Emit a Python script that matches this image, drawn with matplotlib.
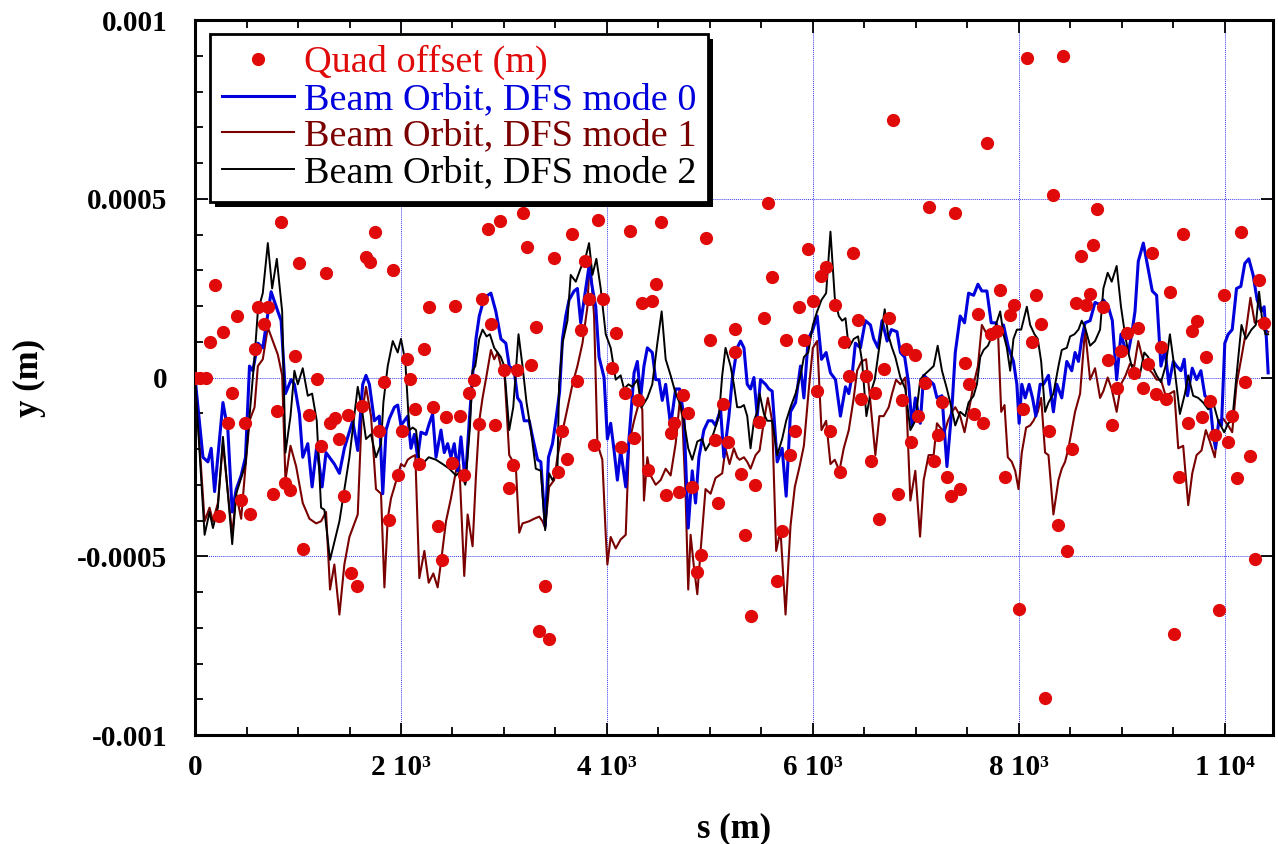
import numpy as np
import matplotlib
matplotlib.use("Agg")
import matplotlib.pyplot as plt
from matplotlib.ticker import MultipleLocator, FixedLocator
from matplotlib.patches import Rectangle

# ── Data (s in m, y in micrometres) ───────────────────────────────────────────
quad_pts = [
    (0, 0), (50, 0), (110, 0), (141, 98), (190, 258), (270, 128), (406, 171), (361, -42),
    (319, -126), (490, -126), (232, -386), (448, -342), (536, -381), (578, 80), (610, 198),
    (713, 198), (668, 149), (794, -93), (755, -327), (836, 436), (969, 61), (1014, 319),
    (878, -295), (927, -316), (1046, -481), (1104, -106), (1182, -5), (1224, -191),
    (1272, 291), (1311, -126), (1363, -114), (1402, -171), (1444, -332), (1489, -106),
    (1512, -548), (1576, -584), (1618, -80), (1660, 338), (1699, 323), (1748, 406),
    (1926, 300), (2840, 415), (2960, 437), (3180, 459), (3228, 364), (3487, 335), (2268, 198),
    (2527, 200), (2785, 221), (2226, 80), (2873, 149), (3309, 140), (2055, 51), (1838, -13),
    (2091, -3), (2705, -6), (2663, -42), (3002, 22), (3131, 22), (3260, 36), (2139, -89),
    (2313, -83), (2436, -111), (2572, -108), (1790, -149), (2010, -150), (2753, -131),
    (2915, -134), (2178, -242), (2491, -238), (2614, -272), (3092, -246), (3050, -310),
    (1968, -274), (1880, -399), (2355, -415), (2398, -510), (3399, -584), (3341, -708),
    (3438, -730),
    (3658, 402), (3917, 440), (4221, 411), (4524, 436), (4957, 389), (3787, 325), (3826, 221),
    (3962, 221), (4343, 208), (4440, 214), (4479, 261), (3745, 134), (4091, 124), (4996, 105),
    (5242, 136), (3707, -10), (4046, 26), (4175, -42), (4305, -64), (4738, -48), (5125, -74),
    (3561, -149), (3875, -188), (4133, -195), (4262, -170), (4618, -156), (4650, -128),
    (4786, -98), (5048, -176), (5174, -179), (3616, -227), (3529, -264), (4398, -259),
    (4570, -329), (4699, -320), (4828, -306), (5080, -351), (5297, -270), (4915, -497),
    (4877, -545),
    (6777, 720), (5562, 487), (5953, 360), (6389, 348), (5604, 281), (6082, 284), (6128, 309),
    (5523, 167), (5863, 196), (5998, 214), (6212, 202), (6435, 162), (6735, 167), (5740, 106),
    (5911, 106), (6299, 98), (6903, 79), (6994, 64), (5240, 70), (6347, 3), (6519, 3),
    (6693, 24), (6040, -38), (6470, -60), (6606, -42), (6864, -64), (5475, -124), (5824, -149),
    (6170, -150), (7020, -108), (6955, -179), (5782, -217), (5436, -302), (6260, -265),
    (6564, -233), (6822, -325), (6645, -395), (5345, -440), (5701, -430), (5652, -568),
    (5394, -666),
    (8080, 893), (8426, 900), (7689, 657), (8335, 511), (7123, 476), (7382, 459), (8755, 472),
    (8723, 371), (8600, 341), (7818, 246), (8164, 230), (7598, 179), (7954, 202), (7909, 175),
    (8212, 149), (8555, 208), (8649, 202), (8688, 233), (7786, 131), (7731, 121), (8125, 98),
    (7472, 42), (7085, -15), (7511, -17), (7253, -68), (7560, -102), (7650, -128), (8035, -89),
    (8296, -149), (7214, -162), (8513, -200), (7172, -233), (7301, -278), (7860, -277),
    (7343, -332), (7430, -313), (8384, -412), (8471, -486), (7996, -647), (8254, -897),
    (9595, 402), (10161, 406), (9295, 348), (10329, 274), (9466, 240), (9990, 230), (8820, 198),
    (9725, 159), (9683, 131), (9159, 139), (9052, 124), (10381, 153), (8991, 74), (9379, 84),
    (8862, 48), (9250, 38), (9815, 57), (9120, 13), (8949, -29), (9208, -29), (9330, -45),
    (9424, -60), (10200, -13), (9854, -65), (8907, -134), (9644, -128), (9773, -111),
    (10071, -108), (9902, -162), (10032, -181), (10248, -219), (9553, -278), (10119, -282),
    (10290, -508), (9945, -650), (9508, -718),
]

mode0_pts = [
    (0, 0), (77, -223), (125, -236), (157, -198), (190, -319), (271, -70), (319, -147),
    (361, -376), (400, -313), (448, -274), (490, -223), (529, 32), (561, 19), (610, 96),
    (658, 83), (739, 240), (804, 185), (836, 159), (878, -45), (933, -6), (965, -19),
    (1014, -102), (1046, -223), (1095, -185), (1137, -306), (1182, -191), (1234, -306),
    (1272, -210), (1353, -242), (1402, -268), (1450, -198), (1531, -121), (1580, -204),
    (1628, -19), (1660, 6), (1693, -19), (1741, -121), (1790, -108),
    (1823, -325), (1855, -147), (1887, -115), (1936, -83), (1968, -77), (2000, -134),
    (2065, -108), (2097, -198), (2130, -159), (2162, -223), (2194, -153), (2243, -159),
    (2275, -128), (2307, -102), (2340, -223), (2388, -147), (2420, -210), (2453, -185),
    (2485, -223), (2517, -185), (2550, -261), (2582, -166), (2624, -293), (2663, -121),
    (2695, 6), (2728, 108), (2760, 172), (2808, 223), (2873, 236), (2921, 185), (2970, 108),
    (3018, 96), (3051, 32), (3099, 19), (3132, -57), (3164, -70), (3196, -121), (3245, -121),
    (3277, -166), (3326, -230), (3358, -236), (3400, -415), (3432, -223), (3471, -185),
    (3503, -121), (3540, -40),
    (3568, 108), (3600, 172), (3632, 217), (3681, 242), (3713, 249), (3745, 153), (3787, 236),
    (3826, 312), (3859, 249), (3891, 198), (3923, 57), (3972, 0), (4004, -172), (4036, -128),
    (4069, -204), (4101, -287), (4133, -204), (4182, -306), (4214, -172), (4263, 13),
    (4295, 45), (4327, -57), (4359, 32), (4392, 83), (4440, 70), (4473, -6), (4505, -6),
    (4537, -64), (4570, -19), (4618, -134), (4667, -32), (4705, -32), (4747, -108),
    (4789, -421), (4828, -261), (4860, -351), (4893, -223), (4941, -147), (4983, -121),
    (5022, -121), (5054, -134), (5103, -89), (5135, -223), (5184, -108), (5216, -6), (5264, 83),
    (5297, 102), (5330, 83), (5362, -19), (5394, -32), (5427, 0), (5459, -108), (5491, -6),
    (5540, -19), (5572, -32), (5604, -38), (5653, -236), (5701, -198), (5740, -332),
    (5782, -96), (5831, -70), (5879, 32), (5912, -57), (5954, 108), (5999, 134), (6041, 172),
    (6083, 51), (6128, 70), (6170, 13), (6219, -6), (6267, -108), (6316, -26), (6348, -45),
    (6380, 6), (6412, 96), (6461, 83), (6509, 159), (6558, 147), (6590, 108), (6632, 83),
    (6671, 159), (6720, 102), (6762, 134), (6816, 128), (6849, 70), (6891, 57), (6930, -19),
    (6962, -134), (6994, -57),
    (7042, -128), (7075, 6), (7123, -6), (7172, -19), (7204, -57), (7253, -51), (7301, -249),
    (7350, -83), (7382, 70), (7430, 172), (7472, 153), (7511, 236), (7560, 230), (7602, 261),
    (7640, 242), (7689, 242), (7731, 153), (7776, 153), (7818, 121), (7850, 147), (7899, 83),
    (7947, 45), (7980, -19), (8002, -128), (8028, -19), (8061, -57), (8099, -19), (8132, -57),
    (8164, -108), (8206, -19), (8238, -19), (8287, 6), (8335, -96), (8368, -19), (8416, -57),
    (8465, 45), (8513, 19), (8545, 70), (8578, 45), (8610, 108), (8642, 153), (8691, 159),
    (8739, 210), (8788, 204),
    (8820, 217), (8868, 198), (8907, 159), (8949, -6), (8991, 121), (9023, 89), (9062, 70),
    (9095, 121), (9127, 185), (9159, 325), (9208, 376), (9250, 312), (9295, 242), (9337, 230),
    (9379, 32), (9418, 77), (9456, -19), (9499, 45), (9531, 32), (9573, 19), (9605, 51),
    (9637, -51), (9683, 26), (9725, -6), (9767, 19), (9806, -51), (9854, -64), (9886, -159),
    (9909, -198), (9941, -121), (9967, -134), (9999, 96), (10032, 121), (10071, 134),
    (10113, 249), (10155, 255), (10193, 319), (10232, 332), (10274, 287), (10313, 217),
    (10355, 185), (10381, 198), (10403, 108), (10420, 13),
]

mode1_pts = [
    (0, 0), (93, -402), (141, -364), (174, -402), (222, -351), (271, -185), (361, -440),
    (400, -325), (448, -395), (490, -249), (529, -121), (578, -83), (610, 32), (658, 51),
    (707, 140), (804, 64), (846, 6), (878, -287), (927, -191), (982, -249), (1046, -351),
    (1111, -395), (1176, -408), (1224, -402), (1272, -376), (1311, -593), (1353, -523),
    (1402, -663), (1450, -523), (1499, -446), (1580, -383), (1618, -108), (1660, -26),
    (1709, -108), (1757, -312), (1806, -325),
    (1839, -587), (1871, -395), (1903, -338), (1936, -306), (2000, -242), (2033, -249),
    (2065, -230), (2097, -223), (2139, -217), (2178, -561), (2227, -485), (2269, -574),
    (2314, -548), (2356, -587), (2388, -517), (2437, -402), (2485, -338), (2534, -261),
    (2566, -242), (2614, -555), (2647, -383), (2695, -472), (2728, -274), (2760, -121),
    (2792, -57), (2831, 6), (2873, 77), (2905, 51), (2938, 70), (2970, 32), (3002, 26),
    (3051, -217), (3115, -249), (3148, -434), (3180, -408), (3245, -402), (3293, -395),
    (3342, -389), (3374, -402), (3400, -421), (3438, -306), (3487, -287), (3519, -223),
    (3551, -172), (3600, -108), (3665, -19), (3713, 32), (3762, 96), (3810, 198), (3833, 338),
    (3875, 172), (3907, -185), (3955, -230), (3988, -440), (4004, -523), (4036, -446),
    (4085, -478), (4133, -453), (4182, -440), (4214, -185), (4263, -121), (4311, -70),
    (4343, -89), (4359, -344), (4392, -223), (4424, -274), (4473, -300), (4521, -287),
    (4570, -255), (4618, -274), (4667, -185), (4705, -70), (4731, -108), (4763, -325),
    (4789, -593), (4812, -440), (4844, -529), (4877, -606), (4909, -485), (4957, -312),
    (5006, -325), (5054, -281), (5119, -268), (5151, -198), (5190, -242), (5232, -198),
    (5264, -223),
    (5288, -230), (5330, -223), (5362, -236), (5394, -255), (5443, -217), (5482, -204),
    (5524, -121), (5562, -57), (5604, -121), (5643, -485), (5685, -427), (5734, -663),
    (5782, -415), (5824, -306), (5870, -249), (5912, -191), (5960, -32), (5999, 83),
    (6041, 102), (6083, -147), (6128, -121), (6170, -242), (6212, -230), (6257, -261),
    (6299, -198), (6348, -147), (6396, -57), (6429, 19), (6471, 45), (6516, 51), (6558, -70),
    (6606, -217), (6645, -108), (6687, -108), (6736, -83), (6768, -45), (6807, -6),
    (6849, -19), (6897, 0), (6946, -344), (6994, -261), (7040, -445),
    (7075, -287), (7123, -217), (7172, -217), (7204, -128), (7236, -140), (7278, -153),
    (7311, -121), (7350, -96), (7382, -83), (7430, -108), (7472, -153), (7511, -96),
    (7560, -19), (7602, 32), (7640, 147), (7689, 121), (7731, 121), (7770, 115), (7796, 134),
    (7828, -96), (7860, -77), (7892, -223), (7931, -236), (7964, -261), (7996, -312),
    (8028, -210), (8070, -140), (8109, -134), (8141, -121), (8183, -96), (8216, -57),
    (8254, -210), (8287, -217), (8335, -383), (8384, -287), (8416, -255), (8448, -236),
    (8481, -198), (8513, -147), (8545, -96), (8594, -45), (8642, 134), (8691, -6), (8739, 26),
    (8788, -57),
    (8820, -38), (8862, 0), (8901, -32), (8949, -96), (8991, -19), (9036, 6), (9078, 38),
    (9120, 32), (9159, 102), (9208, 45), (9250, 26), (9295, 13), (9337, -6), (9379, -6),
    (9424, -51), (9466, -45), (9508, -38), (9547, -198), (9595, -191), (9644, -357),
    (9683, -268), (9725, -217), (9773, -204), (9815, -147), (9854, -179), (9902, -223),
    (9941, -121), (9983, -115), (10032, -134), (10071, -153), (10113, -19), (10161, 57),
    (10200, 121), (10248, 223), (10290, 153), (10332, 159), (10381, 134), (10420, 128),
]

mode2_pts = [
    (0, 0), (93, -440), (141, -376), (174, -421), (222, -364), (271, -166), (361, -466),
    (400, -325), (490, -242), (529, -108), (578, 57), (610, 185), (658, 236), (707, 376),
    (749, 249), (794, 332), (846, 185), (878, -210), (927, -108), (965, 19), (998, -19),
    (1046, 26), (1095, -51), (1137, -45), (1182, -121), (1224, -364), (1256, -370),
    (1311, -510), (1402, -402), (1499, -223), (1580, -26), (1618, -83), (1660, -172),
    (1709, -159), (1757, -223), (1806, -185),
    (1829, -70), (1871, 32), (1920, 102), (1968, 70), (2000, 108), (2042, 45), (2081, -147),
    (2114, -140), (2146, -147), (2178, -230), (2227, -236), (2269, -223), (2340, -230),
    (2404, -242), (2469, -255), (2534, -274), (2582, -261), (2624, -300), (2669, -140),
    (2695, 19), (2721, 32), (2760, 108), (2792, 134), (2831, 115), (2863, 121), (2905, 83),
    (2938, 70), (2970, 57), (3002, 32), (3051, -147), (3090, -83), (3141, 121), (3180, 32),
    (3219, -70), (3261, -147), (3309, -255), (3358, -261), (3400, -427), (3438, -268),
    (3471, -287), (3519, -261),
    (3535, -19), (3568, 96), (3616, 159), (3648, 287), (3697, 268), (3745, 306), (3794, 338),
    (3826, 376), (3859, 287), (3897, 332), (3939, 249), (3988, 121), (4036, 83), (4085, -6),
    (4133, 6), (4166, -32), (4208, -19), (4246, -26), (4295, -6), (4337, -83), (4392, -57),
    (4440, -19), (4489, 96), (4531, 185), (4570, 51), (4618, 6), (4667, -45), (4715, -77),
    (4747, -121), (4789, -198), (4828, -230), (4877, -179), (4925, -172), (4957, -204),
    (4996, -185), (5038, -153), (5087, -108), (5119, 6), (5151, 83), (5200, 32), (5232, -19),
    (5264, -83),
    (5297, -83), (5330, -77), (5362, -108), (5394, -198), (5427, -121), (5459, -96),
    (5482, -45), (5524, -102), (5556, -121), (5604, -121), (5653, -217), (5701, -172),
    (5740, -121), (5782, -83), (5831, -45), (5879, 6), (5912, 57), (5954, 70), (5999, 147),
    (6041, 185), (6083, 217), (6128, 236), (6170, 408), (6212, 223), (6251, 172), (6283, 159),
    (6316, 166), (6348, 83), (6396, 108), (6438, 115), (6477, 45), (6519, -108), (6558, -45),
    (6600, -6), (6655, 108), (6697, 191), (6729, 121), (6768, 83), (6800, 57), (6849, 0),
    (6897, -32), (6946, -147), (6994, -121),
    (7042, -6), (7075, 6), (7123, 19), (7172, 32), (7211, 89), (7253, 19), (7301, -32),
    (7333, -70), (7382, -134), (7430, -96), (7479, -108), (7511, -70), (7560, -51),
    (7592, -19), (7624, 57), (7657, 77), (7699, 89), (7737, 115), (7776, 147), (7818, 185),
    (7850, 121), (7883, 83), (7915, 19), (7947, 108), (7980, 134), (8022, 134), (8054, 172),
    (8077, 198), (8109, 147), (8151, 121), (8183, 108), (8216, 45), (8254, -96), (8287, -70),
    (8335, -45), (8384, 32), (8416, 77), (8465, 83), (8497, 115), (8539, 121), (8578, 134),
    (8610, 159), (8642, 140), (8691, 89), (8739, 102), (8788, 134),
    (8820, 249), (8862, 293), (8901, 268), (8949, 312), (8991, 198), (9030, 121), (9062, 70),
    (9095, 32), (9127, 6), (9169, 0), (9217, 70), (9256, 57), (9295, 32), (9337, 6),
    (9379, -13), (9424, 32), (9466, 121), (9508, 32), (9563, -102), (9612, -45), (9644, 6),
    (9692, -51), (9741, -57), (9789, -70), (9838, -89), (9886, -70), (9935, -121),
    (9993, -153), (10032, -128), (10071, -121), (10113, 6), (10161, 147), (10203, 108),
    (10258, 134), (10300, 147), (10332, 240), (10365, 153), (10394, 121), (10420, 121),
]

labels = ['Quad offset (m)', 'Beam Orbit, DFS mode 0',
          'Beam Orbit, DFS mode 1', 'Beam Orbit, DFS mode 2']
x_ticks = [0, 2000, 4000, 6000, 8000, 10000]
x_ticklabels = ['0', '2 10³', '4 10³', '6 10³', '8 10³', '1 10⁴']
y_ticks = [-0.001, -0.0005, 0, 0.0005, 0.001]
y_ticklabels = ['-0.001', '-0.0005', '0', '0.0005', '0.001']


def to_xy(pts):
    a = np.array(pts, dtype=float)
    return a[:, 0], a[:, 1] * 1e-6


# ── Figure ────────────────────────────────────────────────────────────────────
plt.rcParams['font.family'] = ['Liberation Serif', 'DejaVu Serif']
fig = plt.figure(figsize=(12.78, 8.44), dpi=100)
ax = fig.add_axes([0.1526, 0.1291, 0.8434, 0.8472])

red = '#e00a0a'
blue = '#0000dd'
brown = '#7a0000'

s0, y0 = to_xy(mode0_pts)
s1, y1 = to_xy(mode1_pts)
s2, y2 = to_xy(mode2_pts)
sq, yq = to_xy(quad_pts)

h1, = ax.plot(s1, y1, color=brown, lw=1.5, zorder=3)
h0, = ax.plot(s0, y0, color=blue, lw=2.2, zorder=4)
h2, = ax.plot(s2, y2, color='black', lw=1.4, zorder=5)
hq, = ax.plot(sq, yq, 'o', ls='none', color=red, ms=8.5, mec=red, zorder=6)

ax.set_xlim(0, 10466)
ax.set_ylim(-0.001, 0.001)

ax.xaxis.set_major_locator(FixedLocator(x_ticks))
ax.xaxis.set_minor_locator(MultipleLocator(500))
ax.yaxis.set_major_locator(FixedLocator(y_ticks))
ax.yaxis.set_minor_locator(MultipleLocator(0.0001))
ax.set_xticklabels(x_ticklabels)
ax.set_yticklabels(y_ticklabels)

ax.tick_params(which='both', direction='in', top=True, right=True, width=1.3,
               labelsize=21)
ax.tick_params(which='major', length=9)
ax.tick_params(which='minor', length=6)
ax.tick_params(axis='y', which='minor', right=False)
ax.tick_params(axis='x', which='major', pad=14)
ax.tick_params(axis='y', which='major', pad=20)
for lab in ax.get_xticklabels() + ax.get_yticklabels():
    lab.set_fontweight('bold')

for sp in ax.spines.values():
    sp.set_linewidth(2.2)

ax.grid(True, which='major', color='#3b3bf0', lw=0.7, ls=(0, (1, 1)), zorder=1)

ax.set_xlabel('s (m)', fontsize=25, fontweight='bold', labelpad=22)
ax.set_ylabel('y (m)', fontsize=25, fontweight='bold', labelpad=22)

# legend on the figure so a solid drop shadow can sit between it and the axes
leg = fig.legend([hq, h0, h1, h2], labels, loc='upper left',
                 bbox_to_anchor=(0.014, 0.981), bbox_transform=ax.transAxes,
                 borderaxespad=0,
                 fontsize=27.5, frameon=True, fancybox=False, shadow=False,
                 handlelength=1.9, handletextpad=0.27, labelspacing=0.05,
                 borderpad=0.3, labelcolor='linecolor', numpoints=1)
leg.get_frame().set_edgecolor('black')
leg.get_frame().set_linewidth(2)
leg.get_frame().set_alpha(1)
leg.set_zorder(20)

fig.canvas.draw()
bb = leg.get_frame().get_window_extent().transformed(fig.transFigure.inverted())
fig.patches.append(Rectangle((bb.x0 + 5 / 1278, bb.y0 - 5 / 844), bb.width, bb.height,
                             transform=fig.transFigure, facecolor='black',
                             edgecolor='none', zorder=9))

fig.savefig('out.png', dpi=100)
